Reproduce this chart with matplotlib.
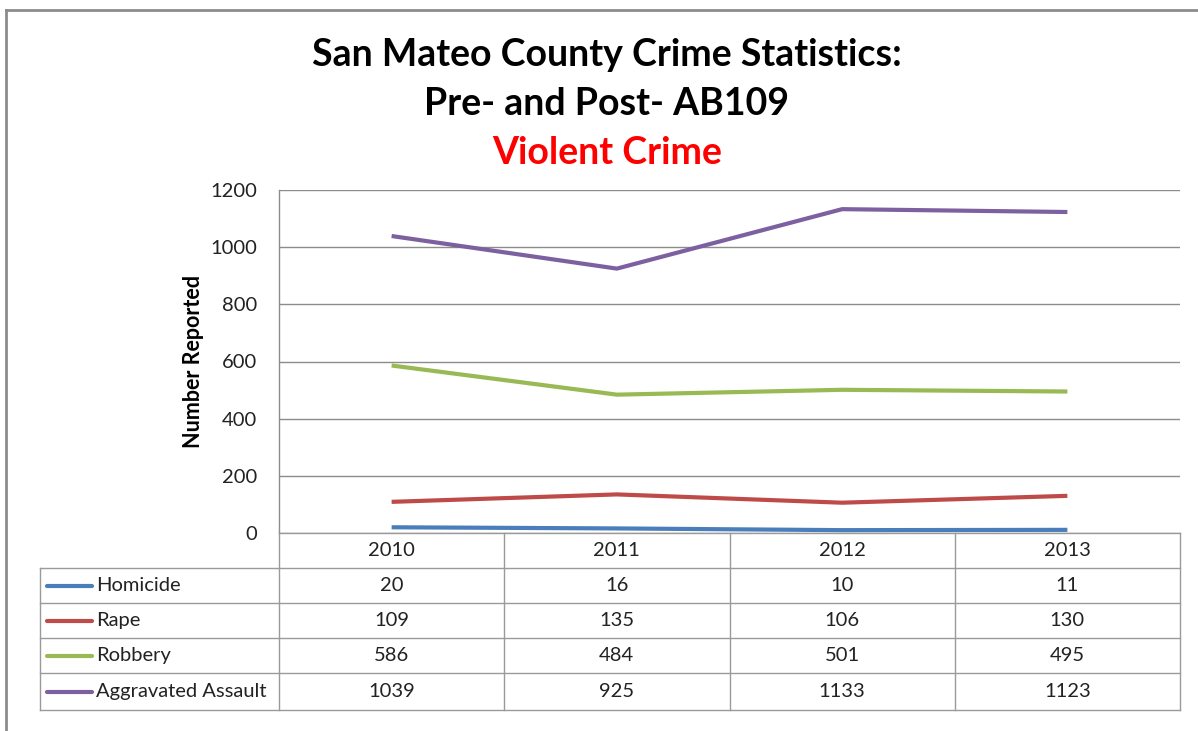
import matplotlib
matplotlib.use("Agg")
import matplotlib.pyplot as plt
from matplotlib.lines import Line2D

years = ["2010", "2011", "2012", "2013"]
series_names = ["Homicide", "Rape", "Robbery", "Aggravated Assault"]
homicide = [20, 16, 10, 11]
rape = [109, 135, 106, 130]
robbery = [586, 484, 501, 495]
aggravated_assault = [1039, 925, 1133, 1123]
y_ticks = [0, 200, 400, 600, 800, 1000, 1200]

series_values = [homicide, rape, robbery, aggravated_assault]
colors = ["#4A7EBB", "#BE4B48", "#98B954", "#7D60A0"]

W, H = 1198, 731
FONT = ["Lato", "DejaVu Sans"]
plt.rcParams["font.family"] = FONT
FS = 14.5

fig = plt.figure(figsize=(W / 100, H / 100), dpi=100)

def fx(x):
    return x / W

def fy(y):
    return 1 - y / H

# plot area
L, R, T, B = 279, 1180, 190, 533
ax = fig.add_axes([fx(L), fy(B), fx(R) - fx(L), fy(T) - fy(B)])
n = len(years)
xs = list(range(n))
for vals, c in zip(series_values, colors):
    ax.plot(xs, vals, color=c, lw=3.0, solid_capstyle="butt", zorder=3)
ax.set_xlim(-0.5, n - 0.5)
ax.set_ylim(0, 1200)
ax.set_yticks(y_ticks)
ax.set_yticklabels([str(t) for t in y_ticks], fontsize=FS, color="#222222")
ax.tick_params(axis="y", length=0, pad=16)
ax.tick_params(axis="x", length=0, labelbottom=False)
ax.grid(axis="y", color="#8C8C8C", lw=1.0, zorder=0)
for s in ["top", "right", "bottom"]:
    ax.spines[s].set_visible(False)
ax.spines["left"].set_color("#8C8C8C")
ax.spines["left"].set_linewidth(1.0)
ax.set_ylabel("Number Reported", fontsize=15.5, fontweight="bold")
ax.yaxis.set_label_coords(fx(193) - fx(L), (fy(362) - fy(B)) / (fy(T) - fy(B)),
                          transform=None)
ax.yaxis.label.set_transform(fig.transFigure)
ax.yaxis.label.set_position((fx(193), fy(362)))
ax.yaxis.label.set_va("center")

# titles
cx = 607
fig.text(fx(cx), fy(55), "San Mateo County Crime Statistics:", ha="center", va="center",
         fontsize=27, fontweight="bold", color="black")
fig.text(fx(cx), fy(104), "Pre- and Post- AB109", ha="center", va="center",
         fontsize=27, fontweight="bold", color="black")
fig.text(fx(cx), fy(153), "Violent Crime", ha="center", va="center",
         fontsize=27, fontweight="bold", color="#FF0000")

# data table
gc = "#9A9A9A"
def hline(y, x0, x1):
    fig.add_artist(Line2D([fx(x0), fx(x1)], [fy(y), fy(y)], color=gc, lw=1.0,
                          transform=fig.transFigure))

def vline(x, y0, y1):
    fig.add_artist(Line2D([fx(x), fx(x)], [fy(y0), fy(y1)], color=gc, lw=1.0,
                          transform=fig.transFigure))

col_edges = [L + (R - L) * i / n for i in range(n + 1)]
row_edges = [533, 568, 603, 638, 673, 710]
legend_left = 40

hline(row_edges[0], L, R)
for y in row_edges[1:]:
    hline(y, legend_left, R)
for x in col_edges:
    vline(x, row_edges[0], row_edges[-1])
vline(legend_left, row_edges[1], row_edges[-1])

for i, yr in enumerate(years):
    xc = (col_edges[i] + col_edges[i + 1]) / 2
    yc = (row_edges[0] + row_edges[1]) / 2
    fig.text(fx(xc), fy(yc), yr, ha="center", va="center", fontsize=FS, color="#222222")

for r, (name, vals, c) in enumerate(zip(series_names, series_values, colors)):
    yc = (row_edges[r + 1] + row_edges[r + 2]) / 2
    fig.add_artist(Line2D([fx(47), fx(92)], [fy(yc), fy(yc)], color=c, lw=3.0,
                          solid_capstyle="round", transform=fig.transFigure))
    fig.text(fx(96), fy(yc), name, ha="left", va="center", fontsize=FS, color="#222222")
    for i, v in enumerate(vals):
        xc = (col_edges[i] + col_edges[i + 1]) / 2
        fig.text(fx(xc), fy(yc), str(v), ha="center", va="center", fontsize=FS, color="#222222")

# outer chart border (partially visible)
bc = "#8C8C8C"
fig.add_artist(Line2D([fx(6), fx(6)], [fy(731), fy(10)], color=bc, lw=2.0, transform=fig.transFigure))
fig.add_artist(Line2D([fx(6), fx(1198)], [fy(10), fy(10)], color=bc, lw=2.0, transform=fig.transFigure))

fig.savefig("out.png", dpi=100)
